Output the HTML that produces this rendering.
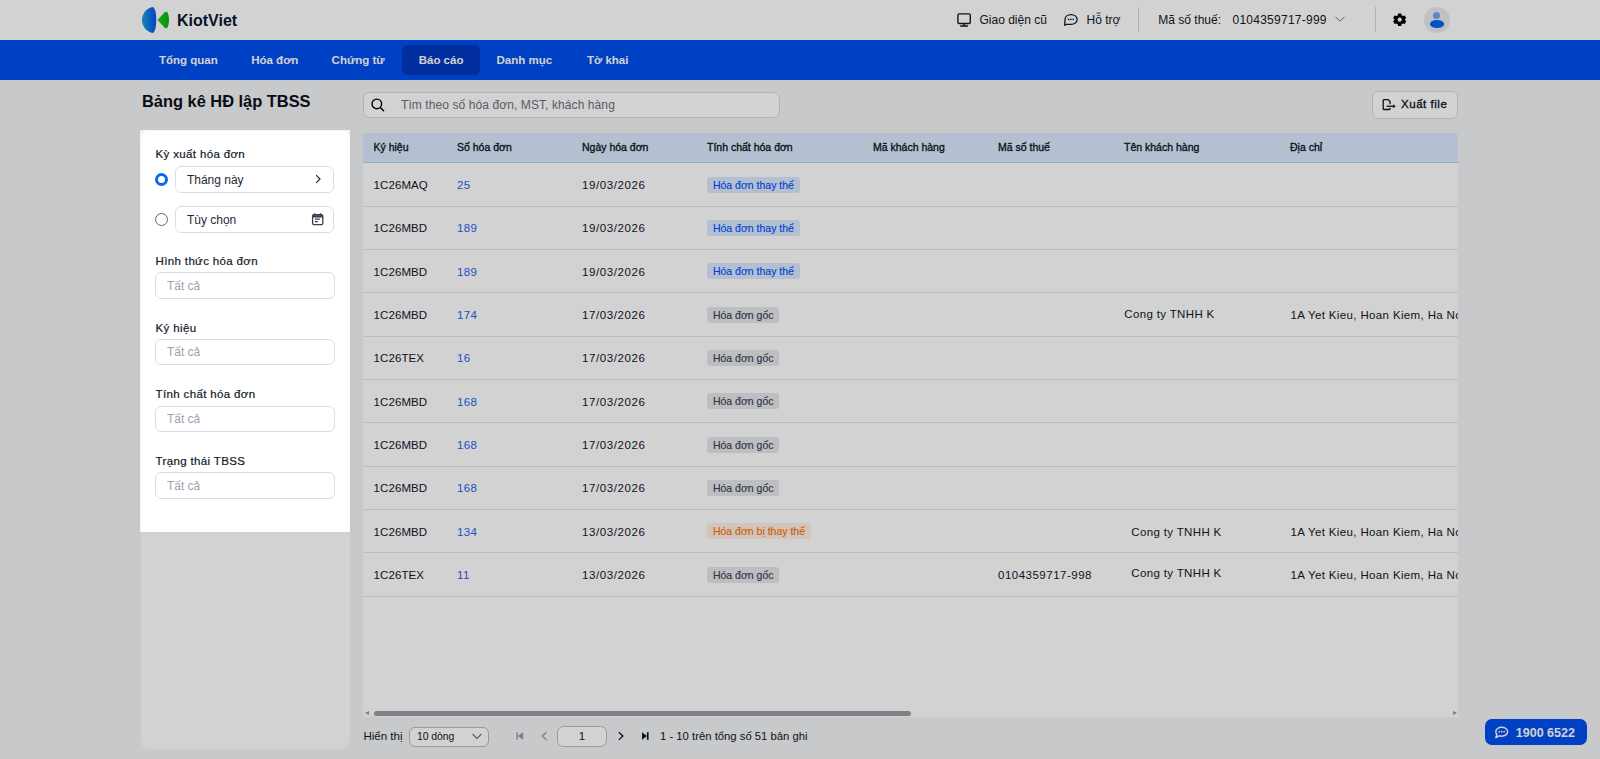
<!DOCTYPE html>
<html><head><meta charset="utf-8">
<style>
*{box-sizing:border-box;margin:0;padding:0}
html,body{width:1600px;height:759px;overflow:hidden}
body{font-family:"Liberation Sans",sans-serif;background:#F3F4F6;color:#111827;position:relative}
.abs{position:absolute}
#top{left:0;top:0;width:1600px;height:40px;background:#fff}
#nav{left:0;top:40px;width:1600px;height:40px;background:#004EEE}
.nv{position:absolute;top:0;height:40px;line-height:40px;color:#fff;font-weight:bold;font-size:12px;white-space:nowrap}
.nvt{top:55.3px;font-size:11.5px;font-weight:bold;color:#fff}
.med{-webkit-text-stroke:0.25px currentColor}
.txt{position:absolute;white-space:nowrap;line-height:1}
#title{left:142px;top:93px;font-size:16.4px;font-weight:bold;color:#0b0f19}
#search{left:363px;top:92px;width:417px;height:26px;border:1.5px solid #d9dbe0;border-radius:6px;background:#fff}
#xuat{left:1372px;top:90.5px;width:86px;height:28px;border:1.5px solid #d9dbe0;border-radius:6px;background:#fff}
#panel{left:141px;top:131px;width:209px;height:617.5px;background:#fff;border-radius:8px}
#tbl{left:363px;top:132.6px;width:1095.2px;height:584.2px;background:#fff;overflow:hidden;border-radius:3px 3px 0 0}
#thead{position:absolute;left:0;top:0;width:100%;height:30.4px;background:#DBEAFE;border-bottom:1px solid #B3D1FD}
.th{position:absolute;top:9.1px;line-height:1;font-size:10.5px;-webkit-text-stroke:0.35px #111827;color:#111827;white-space:nowrap}
.row{position:absolute;left:0;width:100%;height:43.33px;border-bottom:1px solid #e5e7eb}
.td{position:absolute;top:16.4px;line-height:1;font-size:11.5px;letter-spacing:0.35px;color:#111827;white-space:nowrap}
.lnk{color:#2563EB}
.bdg{position:absolute;top:13.3px;height:15.9px;line-height:16.9px;font-size:10.5px;padding:0 5.8px;-webkit-text-stroke:0.15px currentColor;border-radius:3px;white-space:nowrap}
.b1{background:#DBEAFE;color:#0050FF}
.b2{background:#E5E7EB;color:#374151}
.b3{background:#FFEEE2;color:#FA720A}
#spot{left:140.2px;top:130.2px;width:210.2px;height:401.8px;box-shadow:0 0 0 3000px rgba(0,0,0,0.176);z-index:50;pointer-events:none}
.lbl{position:absolute;left:14.6px;font-size:11.5px;letter-spacing:0.35px;-webkit-text-stroke:0.2px #111827;color:#111827;white-space:nowrap;line-height:1}
.inp{position:absolute;border:1px solid #dcdee3;border-radius:6px;background:#fff;font-size:12px;white-space:nowrap}
.ph{color:#9ca3af}
#hot{left:1485px;top:719px;width:101.6px;height:26.3px;background:#004EEE;border-radius:7px;color:#fff;font-weight:bold;font-size:12.5px;z-index:10}
</style></head><body>
<div id="top" class="abs"></div>
<div id="nav" class="abs"></div>
<svg class="abs" style="left:141px;top:6px" width="30" height="29" viewBox="0 0 30 29">
<defs><linearGradient id="lg" x1="0" y1="0" x2="1" y2="0"><stop offset="0" stop-color="#19A3E6"/><stop offset="1" stop-color="#0A4FE8"/></linearGradient><linearGradient id="lg2" x1="0" y1="0" x2="1" y2="0"><stop offset="0" stop-color="#1BD226"/><stop offset="1" stop-color="#0DAE18"/></linearGradient></defs>
<path d="M11.3 1 C13.9 1.4 15.2 6 15.2 14 C15.2 22 13.9 26.6 11.3 27 C5.5 25.6 1 20.5 1 14 C1 7.5 5.5 2.4 11.3 1 Z" fill="url(#lg)"/>
<path d="M16.5 14 L23.4 6.4 C24.4 5.3 25.8 5.5 26.6 6.8 C27.6 8.8 28 11.6 28 14 C28 16.4 27.6 19.2 26.6 21.2 C25.8 22.5 24.4 22.7 23.4 21.6 Z" fill="url(#lg2)"/>
</svg>
<div class="txt" style="left:177px;top:13px;font-size:16px;font-weight:bold;color:#0B1533">KiotViet</div>
<svg class="abs" style="left:956px;top:12px" width="16" height="16" viewBox="0 0 16 16">
<rect x="1.9" y="1.9" width="12.4" height="9.6" rx="1.3" fill="none" stroke="#111827" stroke-width="1.4"/>
<path d="M8.1 11.5 V13.6 M4.2 14 H12" stroke="#111827" stroke-width="1.4" fill="none"/>
</svg>
<div class="txt" style="left:979.5px;top:13.5px;font-size:12px;color:#111827">Giao diện cũ</div>
<svg class="abs" style="left:1063px;top:13px" width="16" height="14" viewBox="0 0 16 14">
<path d="M1.7 12.3 L2 6.7 C2 3.6 4.7 1.6 8 1.6 C11.5 1.6 14.1 3.7 14.1 6.5 C14.1 9.3 11.5 11.3 8 11.3 H3.4 Z" fill="none" stroke="#111827" stroke-width="1.3" stroke-linejoin="round"/>
<circle cx="5.6" cy="6.4" r="0.8" fill="#111827"/><circle cx="7.9" cy="6.4" r="0.8" fill="#111827"/><circle cx="10.3" cy="6.4" r="0.8" fill="#111827"/>
</svg>
<div class="txt" style="left:1086.5px;top:13.5px;font-size:12px;color:#111827">Hỗ trợ</div>
<div class="abs" style="left:1138px;top:7px;width:1px;height:25px;background:#d1d5db"></div>
<div class="txt" style="left:1158.3px;top:13.5px;font-size:12px;color:#111827">Mã số thuế:</div>
<div class="txt" style="left:1232.5px;top:13.5px;font-size:12px;color:#111827;letter-spacing:0.25px">0104359717-999</div>
<svg class="abs" style="left:1333px;top:14px" width="14" height="10" viewBox="0 0 14 10"><path d="M2.6 3 L7 7.2 L11.4 3" fill="none" stroke="#6b7280" stroke-width="1"/></svg>
<div class="abs" style="left:1374.5px;top:7px;width:1px;height:25px;background:#d1d5db"></div>
<svg class="abs" style="left:1393.3px;top:13.3px" width="13.4" height="13.4" viewBox="0 0 16 16">
<path fill="#000" fill-rule="evenodd" d="M6.2 1.6 H9.8 L10.3 3.6 L12 4.6 L14 4 L15.8 7.1 L14.3 8.6 V9.4 L15.8 10.9 L14 14 L12 13.4 L10.3 14.4 L9.8 16.4 H6.2 L5.7 14.4 L4 13.4 L2 14 L0.2 10.9 L1.7 9.4 V8.6 L0.2 7.1 L2 4 L4 4.6 L5.7 3.6 Z M8 6.5 A2.5 2.5 0 1 0 8 11.5 A2.5 2.5 0 1 0 8 6.5 Z" transform="translate(0,-1)"/>
</svg>
<div class="abs" style="left:1423.8px;top:7.2px;width:25.8px;height:25.8px;border-radius:50%;background:#E9EBEF"></div>
<div class="abs" style="left:1432.9px;top:11.5px;width:7.6px;height:7.6px;border-radius:50%;background:#6FA5F5"></div>
<div class="abs" style="left:1429.5px;top:20.3px;width:14.4px;height:7.6px;border-radius:50%;background:#0066EE"></div>

<div class="abs" style="left:402px;top:45px;width:77.5px;height:30px;border-radius:6px;background:#0039C0"></div>
<div class="txt nvt" style="left:159px">Tổng quan</div>
<div class="txt nvt" style="left:251.2px">Hóa đơn</div>
<div class="txt nvt" style="left:331.6px">Chứng từ</div>
<div class="txt nvt" style="left:418.7px">Báo cáo</div>
<div class="txt nvt" style="left:496.5px">Danh mục</div>
<div class="txt nvt" style="left:587px">Tờ khai</div>

<div id="title" class="txt">Bảng kê HĐ lập TBSS</div>
<div id="search" class="abs">
<svg class="abs" style="left:5.5px;top:3.6px" width="16" height="16" viewBox="0 0 16 16"><circle cx="6.8" cy="6.9" r="4.8" fill="none" stroke="#000" stroke-width="1.4"/><path d="M10.3 10.5 L13.6 13.7" stroke="#000" stroke-width="1.5" stroke-linecap="round"/></svg>
<div class="txt" style="left:37px;top:5.7px;font-size:12px;letter-spacing:0.09px;color:#6b7280">Tìm theo số hóa đơn, MST, khách hàng</div>
</div>
<div id="xuat" class="abs">
<svg class="abs" style="left:8px;top:5.5px" width="18" height="16" viewBox="0 0 18 16"><path d="M9 7.3 V4.5 L7.2 2.6 H2.9 C2.5 2.7 2.2 3 2.2 3.4 V11.8 C2.2 12.2 2.5 12.5 2.9 12.5 H8.3 C8.7 12.5 9 12.2 9 11.8 V11" fill="none" stroke="#111" stroke-width="1.3" stroke-linejoin="round"/><path d="M5.6 9.3 H13.8" stroke="#111" stroke-width="1.3"/><path d="M12.2 7.3 L14.6 9.3 L12.2 11.3 Z" fill="#111"/></svg>
<div class="txt" style="left:28px;top:7.1px;font-size:11.5px;letter-spacing:0.53px;-webkit-text-stroke:0.35px #111827;color:#111827">Xuất file</div>
</div>
<div id="panel" class="abs">
<div class="lbl" style="top:18.33px">Kỳ xuất hóa đơn</div>
<div class="abs" style="left:14px;top:41.9px;width:13px;height:13px;border-radius:50%;border:3.6px solid #0A66F5;background:#fff"></div>
<div class="inp" style="left:34px;top:35.25px;width:159.4px;height:26.25px"><div class="txt" style="left:10.9px;top:6.5px;color:#1f2937">Tháng này</div>
<svg class="abs" style="left:136px;top:6px" width="12" height="12" viewBox="0 0 12 12"><path d="M4.2 2.2 L8 6 L4.2 9.8" fill="none" stroke="#1f2937" stroke-width="1.2"/></svg></div>
<div class="abs" style="left:14px;top:81.9px;width:13px;height:13px;border-radius:50%;border:1px solid #5b6472;background:#fff"></div>
<div class="inp" style="left:34px;top:75.25px;width:159.4px;height:26.25px"><div class="txt" style="left:10.9px;top:6.5px;color:#1f2937">Tùy chọn</div>
<svg class="abs" style="left:134.5px;top:5px" width="14" height="15" viewBox="0 0 14 15"><rect x="1.6" y="2.6" width="10.2" height="10" rx="1.3" fill="none" stroke="#374151" stroke-width="1.3"/><path d="M1.6 4.3 H11.8" stroke="#374151" stroke-width="2.4"/><path d="M3.9 1.2 V3 M9.5 1.2 V3" stroke="#374151" stroke-width="1.3"/><path d="M4 7.1 H8.9 M4 9.6 H6.9" stroke="#374151" stroke-width="1.1"/></svg></div>
<div class="lbl" style="top:125.23px">Hình thức hóa đơn</div>
<div class="inp" style="left:14.3px;top:141.2px;width:179.4px;height:26.5px"><div class="txt ph" style="left:10.6px;top:6.5px">Tất cả</div></div>
<div class="lbl" style="top:191.63px">Ký hiệu</div>
<div class="inp" style="left:14.3px;top:207.9px;width:179.4px;height:26.5px"><div class="txt ph" style="left:10.6px;top:6.5px">Tất cả</div></div>
<div class="lbl" style="top:258.33px">Tính chất hóa đơn</div>
<div class="inp" style="left:14.3px;top:274.6px;width:179.4px;height:26.5px"><div class="txt ph" style="left:10.6px;top:6.5px">Tất cả</div></div>
<div class="lbl" style="top:325.03px">Trạng thái TBSS</div>
<div class="inp" style="left:14.3px;top:341.3px;width:179.4px;height:26.5px"><div class="txt ph" style="left:10.6px;top:6.5px">Tất cả</div></div>
</div>
<div id="tbl" class="abs"><div id="thead">
<div class="th" style="left:10.5px">Ký hiệu</div>
<div class="th" style="left:94px">Số hóa đơn</div>
<div class="th" style="left:219px">Ngày hóa đơn</div>
<div class="th" style="left:344px">Tính chất hóa đơn</div>
<div class="th" style="left:510px">Mã khách hàng</div>
<div class="th" style="left:635px">Mã số thuế</div>
<div class="th" style="left:761px">Tên khách hàng</div>
<div class="th" style="left:927px">Địa chỉ</div>
</div>
<div class="row" style="top:30.90px">
<div class="td" style="left:10.5px;letter-spacing:0.1px">1C26MAQ</div>
<div class="td lnk" style="left:94px">25</div>
<div class="td" style="left:219px;letter-spacing:0.58px">19/03/2026</div>
<div class="bdg b1" style="left:344.1px">Hóa đơn thay thế</div>
</div>
<div class="row" style="top:74.23px">
<div class="td" style="left:10.5px;letter-spacing:0.1px">1C26MBD</div>
<div class="td lnk" style="left:94px">189</div>
<div class="td" style="left:219px;letter-spacing:0.58px">19/03/2026</div>
<div class="bdg b1" style="left:344.1px">Hóa đơn thay thế</div>
</div>
<div class="row" style="top:117.56px">
<div class="td" style="left:10.5px;letter-spacing:0.1px">1C26MBD</div>
<div class="td lnk" style="left:94px">189</div>
<div class="td" style="left:219px;letter-spacing:0.58px">19/03/2026</div>
<div class="bdg b1" style="left:344.1px">Hóa đơn thay thế</div>
</div>
<div class="row" style="top:160.89px">
<div class="td" style="left:10.5px;letter-spacing:0.1px">1C26MBD</div>
<div class="td lnk" style="left:94px">174</div>
<div class="td" style="left:219px;letter-spacing:0.58px">17/03/2026</div>
<div class="bdg b2" style="left:344.1px">Hóa đơn gốc</div>
<div class="td" style="left:761.3px;top:15.4px">Cong ty TNHH K</div>
<div class="td" style="left:927.5px;letter-spacing:0.36px">1A Yet Kieu, Hoan Kiem, Ha Noi</div>
</div>
<div class="row" style="top:204.22px">
<div class="td" style="left:10.5px;letter-spacing:0.1px">1C26TEX</div>
<div class="td lnk" style="left:94px">16</div>
<div class="td" style="left:219px;letter-spacing:0.58px">17/03/2026</div>
<div class="bdg b2" style="left:344.1px">Hóa đơn gốc</div>
</div>
<div class="row" style="top:247.55px">
<div class="td" style="left:10.5px;letter-spacing:0.1px">1C26MBD</div>
<div class="td lnk" style="left:94px">168</div>
<div class="td" style="left:219px;letter-spacing:0.58px">17/03/2026</div>
<div class="bdg b2" style="left:344.1px">Hóa đơn gốc</div>
</div>
<div class="row" style="top:290.88px">
<div class="td" style="left:10.5px;letter-spacing:0.1px">1C26MBD</div>
<div class="td lnk" style="left:94px">168</div>
<div class="td" style="left:219px;letter-spacing:0.58px">17/03/2026</div>
<div class="bdg b2" style="left:344.1px">Hóa đơn gốc</div>
</div>
<div class="row" style="top:334.21px">
<div class="td" style="left:10.5px;letter-spacing:0.1px">1C26MBD</div>
<div class="td lnk" style="left:94px">168</div>
<div class="td" style="left:219px;letter-spacing:0.58px">17/03/2026</div>
<div class="bdg b2" style="left:344.1px">Hóa đơn gốc</div>
</div>
<div class="row" style="top:377.54px">
<div class="td" style="left:10.5px;letter-spacing:0.1px">1C26MBD</div>
<div class="td lnk" style="left:94px">134</div>
<div class="td" style="left:219px;letter-spacing:0.58px">13/03/2026</div>
<div class="bdg b3" style="left:344.1px">Hóa đơn bị thay thế</div>
<div class="td" style="left:768.3px;top:17.3px">Cong ty TNHH K</div>
<div class="td" style="left:927.5px;letter-spacing:0.36px">1A Yet Kieu, Hoan Kiem, Ha Noi</div>
</div>
<div class="row" style="top:420.87px">
<div class="td" style="left:10.5px;letter-spacing:0.1px">1C26TEX</div>
<div class="td lnk" style="left:94px">11</div>
<div class="td" style="left:219px;letter-spacing:0.58px">13/03/2026</div>
<div class="bdg b2" style="left:344.1px">Hóa đơn gốc</div>
<div class="td" style="left:635px;letter-spacing:0.5px">0104359717-998</div>
<div class="td" style="left:768.3px;top:15.0px">Cong ty TNHH K</div>
<div class="td" style="left:927.5px;letter-spacing:0.36px">1A Yet Kieu, Hoan Kiem, Ha Noi</div>
</div>
<div class="abs" style="left:2px;top:578.6px;width:0;height:0;border-top:2.5px solid transparent;border-bottom:2.5px solid transparent;border-right:4px solid #9A9DA3"></div>
<div class="abs" style="left:10.5px;top:578.2px;width:537.5px;height:4.9px;border-radius:2.5px;background:#9A9DA3"></div>
<div class="abs" style="left:1089.5px;top:578.6px;width:0;height:0;border-top:2.5px solid transparent;border-bottom:2.5px solid transparent;border-left:4px solid #9A9DA3"></div>
</div>

<div class="txt" style="left:363.5px;top:730.8px;font-size:11.5px;color:#111827">Hiển thị</div>
<div class="abs" style="left:409px;top:726.5px;width:79.5px;height:20px;border:1px solid #b9bcc3;border-radius:6px;background:#fff"></div>
<div class="txt" style="left:417px;top:731.1px;font-size:10.5px;letter-spacing:-0.1px;color:#111827">10 dòng</div>
<svg class="abs" style="left:471px;top:731px" width="12" height="10" viewBox="0 0 12 10"><path d="M1.5 3 L6 7.5 L10.5 3" fill="none" stroke="#6b7280" stroke-width="1.1"/></svg>
<svg class="abs" style="left:515px;top:731px" width="10" height="10" viewBox="0 0 10 10"><path d="M1.4 1.3 H2.8 V8.8 H1.4 Z M8.1 1.3 V8.8 L2.8 5.05 Z" fill="#959ba6"/></svg>
<svg class="abs" style="left:539px;top:731px" width="10" height="10" viewBox="0 0 10 10"><path d="M7.4 1.2 L3.3 5.05 L7.4 8.9" fill="none" stroke="#959ba6" stroke-width="1.3"/></svg>
<div class="abs" style="left:557.3px;top:726.3px;width:50.2px;height:20.3px;border:1px solid #b9bcc3;border-radius:6.5px;background:#fff"></div>
<div class="txt" style="left:578.8px;top:730.8px;font-size:11.5px;color:#111827">1</div>
<svg class="abs" style="left:616px;top:731px" width="10" height="10" viewBox="0 0 10 10"><path d="M2.8 1.2 L6.9 5.05 L2.8 8.9" fill="none" stroke="#111827" stroke-width="1.3"/></svg>
<svg class="abs" style="left:640px;top:731px" width="10" height="10" viewBox="0 0 10 10"><path d="M2 1.3 V8.8 L6.9 5.05 Z M6.9 1.3 H8.6 V8.8 H6.9 Z" fill="#111827"/></svg>
<div class="txt" style="left:660px;top:730.9px;font-size:11.3px;color:#111827">1 - 10 trên tổng số 51 bản ghi</div>
<div id="hot" class="abs">
<svg class="abs" style="left:9px;top:6.5px" width="16" height="14" viewBox="0 0 16 14"><path d="M7.7 1.2 C11 1.2 13.6 3.2 13.6 5.7 C13.6 8.2 11 10.2 7.7 10.2 C6.8 10.2 6 10.1 5.3 9.8 L1.9 11.6 L2.9 8.6 C2.2 7.8 1.8 6.8 1.8 5.7 C1.8 3.2 4.4 1.2 7.7 1.2 Z" fill="none" stroke="#fff" stroke-width="1.5" stroke-linejoin="round"/><circle cx="5.3" cy="5.7" r="0.9" fill="#fff"/><circle cx="7.7" cy="5.7" r="0.9" fill="#fff"/><circle cx="10.1" cy="5.7" r="0.9" fill="#fff"/></svg>
<div class="txt" style="left:30.8px;top:7.7px;font-size:12.5px;font-weight:bold;color:#fff">1900 6522</div>
</div>
<div id="spot" class="abs"></div>
</body></html>
